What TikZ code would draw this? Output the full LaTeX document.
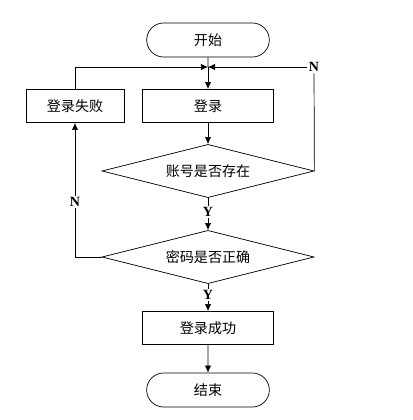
\documentclass[tikz,border=0pt]{standalone}
\usepackage{fontspec}
\setmainfont{Liberation Serif}
\newfontfamily\cjk{Noto Sans CJK SC}
\usetikzlibrary{shapes,arrows.meta}

\begin{document}
\begin{tikzpicture}[x=0.025cm,y=-0.025cm,line width=0.5pt]
\tikzstyle{term}=[draw,rounded rectangle,minimum width=3.3cm,minimum height=0.85cm,font=\cjk\fontsize{10}{12}\selectfont];
\tikzstyle{proc}=[draw,rectangle,minimum width=3.28cm,minimum height=0.83cm,font=\cjk\fontsize{10}{12}\selectfont];
\tikzstyle{cond}=[draw,diamond,aspect=4,inner sep=0pt,minimum width=5.3cm,minimum height=1.33cm,font=\cjk\fontsize{10}{12}\selectfont];
\tikzstyle{lab}=[inner sep=1pt,font=\bfseries\fontsize{10}{12}\selectfont];
\tikzstyle{dir}=[-{Latex[length=5pt,width=4.5pt]}];
\useasboundingbox (0,0) rectangle (413,420);
\node [term] (start) at (208,40) {开始};
\coordinate (join) at (208,67);
\node [proc] (login) at (208,106) {登录};
\node [proc,minimum width=2.45cm] (fail) at (75,106) {登录失败};
\node [cond] (acct) at (208,171) {账号是否存在};
\node [lab] (y1) at (208,212) {Y};
\node [cond] (pwd) at (208,257) {密码是否正确};
\node [lab] (y2) at (208,295) {Y};
\node [proc] (ok) at (208,328) {登录成功};
\node [term] (stop) at (208,390) {结束};
\node [lab] (n1) at (314,67) {N};
\node [lab,fill=white] (n2) at (75,202) {N};
\draw (start) -- (join);
\draw [dir] (join) -- (login);
\draw [dir] (login) -- (acct);
\draw (acct) -- (y1);
\draw [dir] (y1) -- (pwd);
\draw (pwd) -- (y2);
\draw [dir] (y2) -- (ok);
\draw [dir] (ok) -- (stop);
\draw (acct.east) -- (n1);
\draw [dir] (n1) -- (join);
\draw (pwd.west) -- (pwd.west -| fail) -- (n2);
\draw [dir] (n2) -- (fail);
\draw [dir] (fail) |- (join);
\end{tikzpicture}
\end{document}
